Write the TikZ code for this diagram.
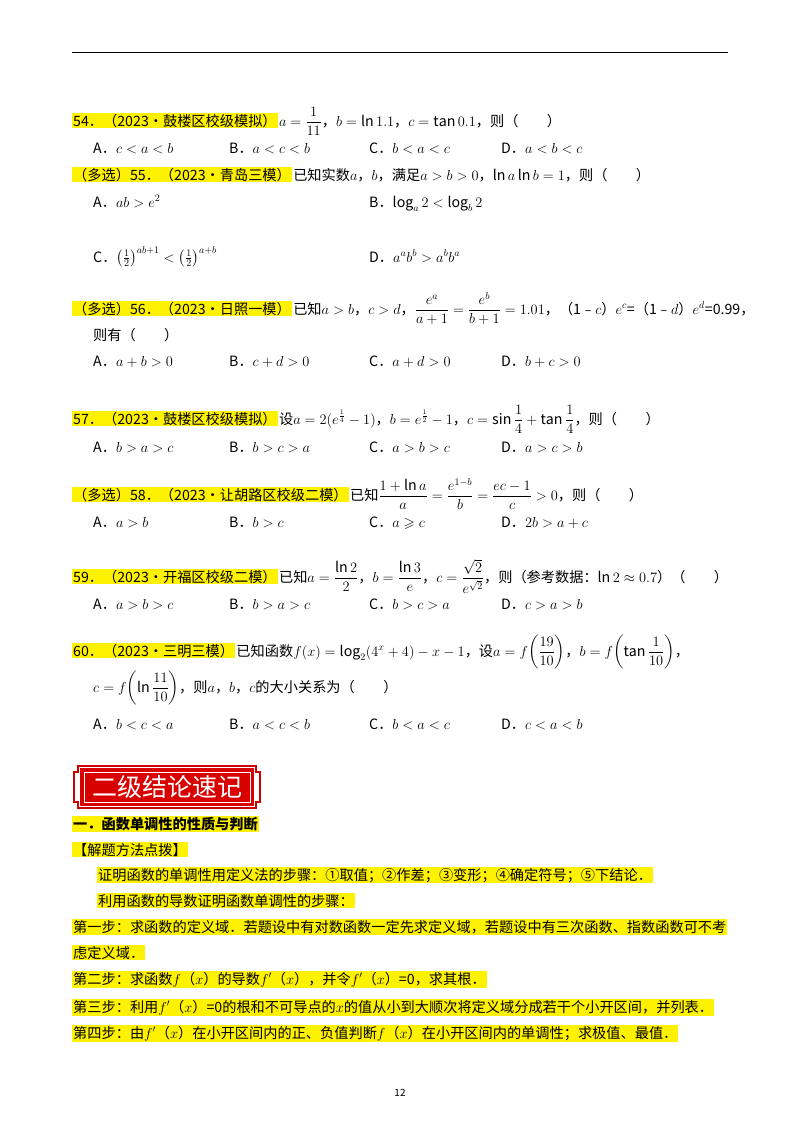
\documentclass[tikz,border=0pt]{standalone}
\usepackage{amsmath,amssymb}
\usepackage{fontspec}
\setmainfont{Noto Sans CJK SC}
\begin{document}
\begin{tikzpicture}[x=1pt,y=-1pt,
  t/.style={anchor=base west,inner sep=1pt,font=\fontsize{14.2}{16}\selectfont},
  hl/.style={t,fill=yellow},
  b/.style={t,font=\fontsize{14.2}{16}\selectfont\bfseries}]
\useasboundingbox (0,0) rectangle (800,1132);
\fill[white] (0,0) rectangle (800,1132);
\draw[line width=1pt] (72,53) -- (728,53);
% 54
\node[hl] (q54) at (72,126) {54．（2023•鼓楼区校级模拟）};
\node[t] (f54) at (q54.base east) [anchor=base west] {$a=\dfrac{1}{11}$，$b=\ln 1.1$，$c=\tan 0.1$，则（\quad\quad）};
\node[t] (a54) at (92,153) {A．$c<a<b$};
\node[t] (b54) at (228,153) {B．$a<c<b$};
\node[t] (c54) at (368,153) {C．$b<a<c$};
\node[t] (d54) at (500,153) {D．$a<b<c$};
% 55
\node[hl] (q55) at (72,180) {（多选）55．（2023•青岛三模）};
\node[t] (f55) at (q55.base east) [anchor=base west] {已知实数$a$，$b$，满足$a>b>0$，$\ln a\ln b=1$，则（\quad\quad）};
\node[t] (a55) at (92,207) {A．$ab>e^2$};
\node[t] (b55) at (368,207) {B．$\log_a2<\log_b2$};
\node[t] (c55) at (92,262) {C．$\left(\frac12\right)^{ab+1}<\left(\frac12\right)^{a+b}$};
\node[t] (d55) at (368,262) {D．$a^ab^b>a^bb^a$};
% 56
\node[hl] (q56) at (72,314) {（多选）56．（2023•日照一模）};
\node[t] (f56) at (q56.base east) [anchor=base west] {已知$a>b$，$c>d$，$\dfrac{e^a}{a+1}=\dfrac{e^b}{b+1}=1.01$，（1﹣$c$）$e^c$=（1﹣$d$）$e^d$=0.99，};
\node[t] (g56) at (92,340) {则有（\quad\quad）};
\node[t] (a56) at (92,366) {A．$a+b>0$};
\node[t] (b56) at (228,366) {B．$c+d>0$};
\node[t] (c56) at (368,366) {C．$a+d>0$};
\node[t] (d56) at (500,366) {D．$b+c>0$};
% 57
\node[hl] (q57) at (72,424) {57．（2023•鼓楼区校级模拟）};
\node[t] (f57) at (q57.base east) [anchor=base west] {设$a=2(e^{\frac14}-1)$，$b=e^{\frac12}-1$，$c=\sin\dfrac14+\tan\dfrac14$，则（\quad\quad）};
\node[t] (a57) at (92,452) {A．$b>a>c$};
\node[t] (b57) at (228,452) {B．$b>c>a$};
\node[t] (c57) at (368,452) {C．$a>b>c$};
\node[t] (d57) at (500,452) {D．$a>c>b$};
% 58
\node[hl] (q58) at (72,500) {（多选）58．（2023•让胡路区校级二模）};
\node[t] (f58) at (q58.base east) [anchor=base west] {已知$\dfrac{1+\ln a}{a}=\dfrac{e^{1-b}}{b}=\dfrac{ec-1}{c}>0$，则（\quad\quad）};
\node[t] (a58) at (92,527) {A．$a>b$};
\node[t] (b58) at (228,527) {B．$b>c$};
\node[t] (c58) at (368,527) {C．$a\geqslant c$};
\node[t] (d58) at (500,527) {D．$2b>a+c$};
% 59
\node[hl] (q59) at (72,582) {59．（2023•开福区校级二模）};
\node[t] (f59) at (q59.base east) [anchor=base west] {已知$a=\dfrac{\ln2}{2}$，$b=\dfrac{\ln3}{e}$，$c=\dfrac{\sqrt2}{e^{\sqrt2}}$，则（参考数据：$\ln2\approx0.7$）（\quad\quad）};
\node[t] (a59) at (92,609) {A．$a>b>c$};
\node[t] (b59) at (228,609) {B．$b>a>c$};
\node[t] (c59) at (368,609) {C．$b>c>a$};
\node[t] (d59) at (500,609) {D．$c>a>b$};
% 60
\node[hl] (q60) at (72,656) {60．（2023•三明三模）};
\node[t] (f60) at (q60.base east) [anchor=base west] {已知函数$f(x)=\log_2(4^x+4)-x-1$，设$a=f\!\left(\dfrac{19}{10}\right)$，$b=f\!\left(\tan\dfrac{1}{10}\right)$，};
\node[t] (g60) at (92,692) {$c=f\!\left(\ln\dfrac{11}{10}\right)$，则$a$，$b$，$c$的大小关系为（\quad\quad）};
\node[t] (a60) at (92,729) {A．$b<c<a$};
\node[t] (b60) at (228,729) {B．$a<c<b$};
\node[t] (c60) at (368,729) {C．$b<a<c$};
\node[t] (d60) at (500,729) {D．$c<a<b$};
% banner
\fill[red!85!black] (80,768) rectangle (254,806);
\draw[red!80!black,line width=1.2pt] (74,772) -- (74,802) -- (78,802) -- (78,808) -- (256,808) -- (256,802) -- (260,802) -- (260,772) -- (256,772) -- (256,766) -- (78,766) -- (78,772) -- cycle;
\draw[white,line width=0.8pt] (84,772) rectangle (250,802);
\node[font=\fontsize{25}{27}\selectfont\color{white}] (ban) at (167,787) {二级结论速记};
% section
\node[b,fill=yellow] (s1) at (72,829) {一．函数单调性的性质与判断};
\node[hl] (s2) at (72,855) {【解题方法点拨】};
\node[hl] (s3) at (97,880) {证明函数的单调性用定义法的步骤：①取值；②作差；③变形；④确定符号；⑤下结论．};
\node[hl] (s4) at (97,906) {利用函数的导数证明函数单调性的步骤：};
\node[hl] (s5) at (72,932) {第一步：求函数的定义域．若题设中有对数函数一定先求定义域，若题设中有三次函数、指数函数可不考};
\node[hl] (s6) at (72,958) {虑定义域．};
\node[hl] (s7) at (72,984) {第二步：求函数$f$（$x$）的导数$f'$（$x$），并令$f'$（$x$）=0，求其根．};
\node[hl] (s8) at (72,1012) {第三步：利用$f'$（$x$）=0的根和不可导点的$x$的值从小到大顺次将定义域分成若干个小开区间，并列表．};
\node[hl] (s9) at (72,1038) {第四步：由$f'$（$x$）在小开区间内的正、负值判断$f$（$x$）在小开区间内的单调性；求极值、最值．};
\node[font=\fontsize{10}{12}\selectfont] (pg) at (400,1093) {12};
\end{tikzpicture}
\end{document}
